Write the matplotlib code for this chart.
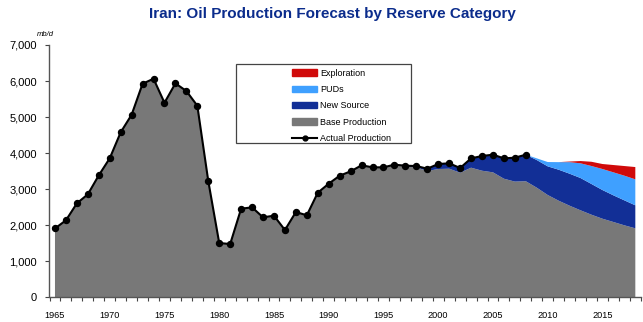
import matplotlib
matplotlib.use('Agg')
import matplotlib.pyplot as plt
from matplotlib.patches import Rectangle, Patch
from matplotlib.lines import Line2D

plt.rcParams['font.family'] = ['Liberation Sans', 'DejaVu Sans']

# ---------------- data ----------------
title = "Iran: Oil Production Forecast by Reserve Category"
unit_label = "mb/d"
series_names = ["Exploration", "PUDs", "New Source", "Base Production", "Actual Production"]

years = list(range(1965, 2019))

actual_years = list(range(1965, 2009))
actual = [1910, 2136, 2607, 2857, 3384, 3856, 4577, 5065, 5925, 6064,
          5398, 5936, 5723, 5315, 3226, 1506, 1478, 2458, 2496, 2219,
          2264, 1867, 2366, 2275, 2902, 3152, 3374, 3495, 3662, 3606,
          3606, 3680, 3651, 3642, 3568, 3698, 3717, 3587, 3855, 3920,
          3957, 3855, 3873, 3957]

base_production = [1910, 2136, 2607, 2857, 3384, 3856, 4577, 5065, 5925, 6064,
                   5398, 5936, 5723, 5315, 3226, 1506, 1478, 2458, 2496, 2219,
                   2264, 1867, 2366, 2275, 2902, 3152, 3374, 3495, 3662, 3606,
                   3606, 3680, 3624, 3606, 3504, 3559, 3568, 3457, 3596, 3512,
                   3467, 3290, 3210, 3220, 3041, 2838, 2680, 2541, 2413, 2291,
                   2180, 2089, 1997, 1914]

new_source = [0] * 32 + [27, 36, 64, 139, 149, 130, 259, 408, 490, 565, 663, 737,
                         767, 795, 860, 888, 896, 852, 796, 740, 693, 638]

puds = [0] * 44 + [47, 120, 210, 321, 408, 499, 583, 638, 684, 721]

exploration = [0] * 44 + [0, 0, 0, 17, 64, 118, 139, 203, 268, 341]

x_tick_years = list(range(1965, 2016, 5))
y_ticks = list(range(0, 7001, 1000))

# ---------------- style ----------------
c_expl = '#D00A0A'
c_puds = '#3FA0FF'
c_new = '#122F96'
c_base = '#787878'
title_color = '#0B2C8C'

W, H = 643, 322
fig = plt.figure(figsize=(W / 100, H / 100), dpi=100)
ax = fig.add_axes([49.5 / W, 1 - 297.3 / H, (640.8 - 49.5) / W, (297.3 - 45) / H])

ax.stackplot(years, base_production, new_source, puds, exploration,
             colors=[c_base, c_new, c_puds, c_expl], linewidth=0)
ax.plot(actual_years, actual, color='black', lw=1.5, marker='o', ms=4.3, zorder=5)

ax.set_xlim(1964.5, 2018.5)
ax.set_ylim(0, 7000)
ax.set_yticks(y_ticks)
ax.set_yticklabels([f"{v:,}" for v in y_ticks])
ax.set_xticks(x_tick_years)
ax.set_xticklabels([str(y) for y in x_tick_years])
ax.set_xticks([y - 0.5 for y in years] + [2018.5], minor=True)
ax.tick_params(axis='x', which='major', length=0, pad=10, labelsize=6.6)
ax.tick_params(axis='x', which='minor', length=3, width=0.8, color='#444444', direction='out')
ax.tick_params(axis='y', which='major', length=3, width=0.8, color='#444444', pad=6, labelsize=8)

for s in ['top', 'right']:
    ax.spines[s].set_visible(False)
for s in ['left', 'bottom']:
    ax.spines[s].set_color('#555555')
    ax.spines[s].set_linewidth(1)

fig.text(332 / W, 1 - 18.3 / H, title, ha='center', va='baseline',
         fontsize=11, fontweight='bold', color=title_color)
fig.text(37 / W, 1 - 34 / H, unit_label, ha='left', va='center',
         fontsize=5.5, style='italic')

# legend box
fig.add_artist(Rectangle((236 / W, 1 - 143.3 / H), 175 / W, 79.3 / H,
                         transform=fig.transFigure, fill=False,
                         edgecolor='#444444', lw=0.9))
handles = [Patch(color=c_expl), Patch(color=c_puds), Patch(color=c_new), Patch(color=c_base),
           Line2D([], [], color='black', lw=1.5, marker='o', ms=3.5)]
fig.legend(handles, series_names, loc='upper left', bbox_to_anchor=(292 / W, 1 - 68.5 / H),
           frameon=False, fontsize=6.5, handlelength=2.8, handletextpad=0.35,
           labelspacing=0.82, borderaxespad=0, borderpad=0)

fig.savefig('out.png', dpi=100)
